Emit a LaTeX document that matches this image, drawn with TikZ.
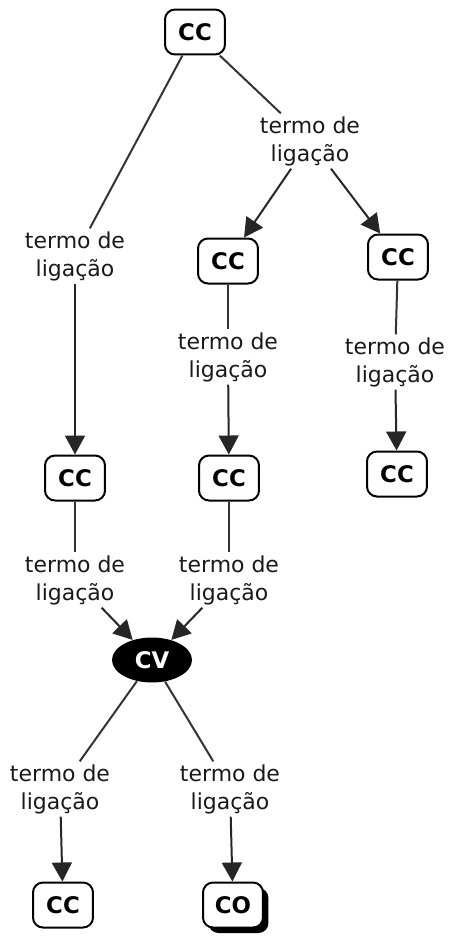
\documentclass[tikz,border=0pt]{standalone}
\usepackage{fontspec}
\setmainfont{DejaVu Sans}
\usepackage{xcolor}
\usepackage{tikz}
\usetikzlibrary{shapes,arrows.meta,positioning,shadows}

\tikzset{
    concept/.style={
        draw,
        line width=0.4mm,
        rounded corners=0.2cm,
        minimum width=1.2cm,
        minimum height=0.9cm,
        inner sep=2pt,
        font=\fontsize{13}{15}\selectfont\bfseries
    },
    linkword/.style={
        align=center,
        inner sep=1.5pt,
        text=black!90,
        font=\fontsize{12.5}{16}\selectfont
    },
    link/.style={
        -,
        line width=0.4mm,
        black!80
    },
    linkarrow/.style={
        -{Triangle[width=0.4cm,length=0.38cm]},
        line width=0.4mm,
        black!85
    }
}

\begin{document}
\begin{tikzpicture}[x=0.02cm,y=-0.02cm]
                \useasboundingbox (0,0) rectangle (451,937);

                % concepts
                \node[concept] (top) at (195,32) {CC};
                \node[concept] (midA) at (228,261) {CC};
                \node[concept] (rightA) at (398,257) {CC};
                \node[concept] (leftB) at (75,478) {CC};
                \node[concept] (midB) at (229,478) {CC};
                \node[concept] (rightB) at (397,474) {CC};
                \node[
                    ellipse,
                    fill=black,
                    text=white,
                    minimum width=1.6cm,
                    minimum height=0.9cm,
                    inner sep=1pt,
                    font=\fontsize{13}{15}\selectfont\bfseries
                    ] (cv) at (152,660) {CV};
                \node[concept] (leftC) at (63,905) {CC};
                \node[
                    concept,
                    fill=white,
                    drop shadow={shadow xshift=0.11cm,shadow yshift=-0.11cm,fill=black,opacity=1}
                    ] (co) at (233,905) {CO};

                % linking words
                \node[linkword] (lwTop) at (310,141) {termo de\\ligação};
                \node[linkword] (lwLeft) at (75,256) {termo de\\ligação};
                \node[linkword] (lwMid) at (228,357) {termo de\\ligação};
                \node[linkword] (lwRight) at (395,362) {termo de\\ligação};
                \node[linkword] (lwLeftB) at (75,580) {termo de\\ligação};
                \node[linkword] (lwMidB) at (229,580) {termo de\\ligação};
                \node[linkword] (lwLeftC) at (60,789) {termo de\\ligação};
                \node[linkword] (lwRightC) at (230,789) {termo de\\ligação};

                % connectors
                \draw[link] (top) -- (lwTop);
                \draw[link] (top) -- (lwLeft);
                \draw[linkarrow] (lwTop) -- (midA);
                \draw[linkarrow] (lwTop) -- (rightA);
                \draw[linkarrow] (lwLeft) -- (leftB);

                \draw[link] (midA) -- (lwMid);
                \draw[linkarrow] (lwMid) -- (midB);
                \draw[link] (rightA) -- (lwRight);
                \draw[linkarrow] (lwRight) -- (rightB);

                \draw[link] (leftB) -- (lwLeftB);
                \draw[link] (midB) -- (lwMidB);
                \draw[linkarrow] (lwLeftB) -- (cv);
                \draw[linkarrow] (lwMidB) -- (cv);

                \draw[link] (cv) -- (lwLeftC);
                \draw[link] (cv) -- (lwRightC);
                \draw[linkarrow] (lwLeftC) -- (leftC);
                \draw[linkarrow] (lwRightC) -- (co);

\end{tikzpicture}
\end{document}
